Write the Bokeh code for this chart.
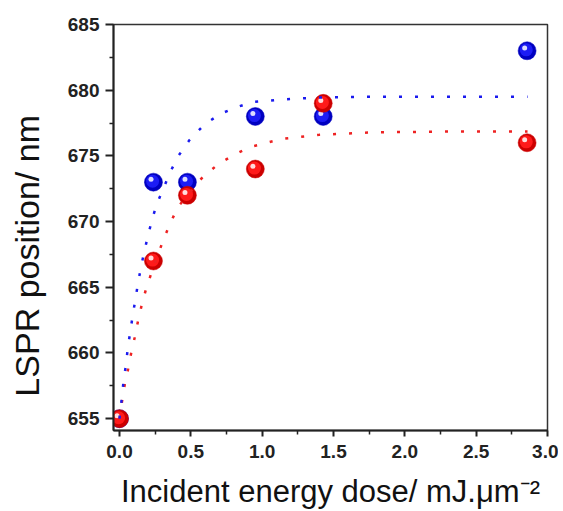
from bokeh.plotting import figure
from bokeh.models import Range1d, FixedTicker, ColumnDataSource
from bokeh.transform import dodge
from bokeh.embed import file_html
from bokeh.resources import INLINE

# ---- data ----
dose = [0.0, 0.238, 0.476, 0.952, 1.428, 2.857]
lspr_blue = [655, 673, 673, 678, 678, 683]
lspr_red = [655, 667, 672, 674, 679, 676]

fit_blue_x = [0.0, 0.007, 0.019, 0.030, 0.047, 0.058, 0.077, 0.093, 0.112, 0.131, 0.152,
              0.175, 0.229, 0.264, 0.357, 0.413, 0.49, 0.596, 0.708, 0.82, 0.932, 1.04,
              1.16, 1.4, 1.8, 2.3, 2.86]
fit_blue_y = [655.0, 655.6, 656.9, 658.0, 659.2, 660.4, 661.7, 662.9, 664.1, 665.4, 666.6,
              667.8, 670.2, 671.4, 673.8, 675.0, 676.2, 677.4, 678.2, 678.7, 679.1, 679.2,
              679.3, 679.45, 679.5, 679.5, 679.5]
fit_red_x = [0.0, 0.019, 0.037, 0.061, 0.082, 0.107, 0.131, 0.159, 0.187, 0.224, 0.307,
             0.353, 0.409, 0.584, 0.696, 0.813, 0.923, 1.035, 1.14, 1.4, 1.8, 2.3, 2.86]
fit_red_y = [655.0, 656.4, 657.6, 658.8, 660.0, 661.2, 662.5, 663.8, 664.9, 666.1, 668.6,
             669.8, 671.1, 673.4, 674.4, 675.15, 675.7, 676.0, 676.3, 676.6, 676.8, 676.85,
             676.85]

x_ticks = [0.0, 0.5, 1.0, 1.5, 2.0, 2.5, 3.0]
y_ticks = [655, 660, 665, 670, 675, 680, 685]

p = figure(width=558, height=511, output_backend="svg", toolbar_location=None,
           x_range=Range1d(-0.042, 3.0), y_range=Range1d(654.1, 685.0),
           min_border_left=113, min_border_right=11, min_border_top=24,
           min_border_bottom=81)

p.grid.visible = False
p.background_fill_color = "white"
p.outline_line_color = "#333333"
p.outline_line_width = 1.5

# axes
for ax in (p.xaxis[0], p.yaxis[0]):
    ax.axis_line_color = "#222222"
    ax.axis_line_width = 2
    ax.major_tick_line_color = "#222222"
    ax.major_tick_line_width = 2
    ax.minor_tick_line_color = "#222222"
    ax.minor_tick_line_width = 1.5
    ax.major_tick_in = 0
    ax.minor_tick_in = 0
    ax.major_label_text_font = "Liberation Sans"
    ax.major_label_text_font_style = "bold"
    ax.major_label_text_font_size = "19px"
    ax.major_label_text_color = "#222222"
    ax.axis_label_text_font = "Liberation Sans"
    ax.axis_label_text_font_style = "normal"
    ax.axis_label_text_color = "#111111"

p.xaxis.ticker = FixedTicker(ticks=x_ticks, minor_ticks=[0.25, 0.75, 1.25, 1.75, 2.25, 2.75])
p.yaxis.ticker = FixedTicker(ticks=y_ticks, minor_ticks=[657.5, 662.5, 667.5, 672.5, 677.5, 682.5])
p.xaxis.major_label_overrides = {t: f"{t:.1f}" for t in x_ticks}
p.xaxis.major_tick_out = 6
p.xaxis.minor_tick_out = 4
p.yaxis.major_tick_out = 8
p.yaxis.minor_tick_out = 4
p.xaxis.major_label_standoff = 8
p.yaxis.major_label_standoff = 6

p.xaxis.axis_label = "Incident energy dose/ mJ.\u03bcm\u207b\u00b2"
p.xaxis.axis_label_text_font_size = "31px"
p.xaxis.axis_label_standoff = 13

# trailing no-break spaces shift the vertical label down, as in the reference
p.yaxis.axis_label = "LSPR position/ nm" + "\u00a0" * 6
p.yaxis.axis_label_text_font_size = "34px"
p.yaxis.axis_label_standoff = 19

# spheres (shaded balls)
src_b = ColumnDataSource(dict(x=dose, y=lspr_blue))
src_r = ColumnDataSource(dict(x=dose, y=lspr_red))

def balls(src, dark, mid):
    p.scatter(x="x", y="y", source=src, size=18, fill_color=dark, line_color=dark, line_width=0.5)
    p.scatter(x=dodge("x", -0.006), y=dodge("y", 0.07), source=src, size=13,
              fill_color=mid, line_color=None)
    p.scatter(x=dodge("x", -0.017), y=dodge("y", 0.22), source=src, size=5,
              fill_color="white", fill_alpha=0.85, line_color=None)

balls(src_b, "#0000c0", "#1c1cf5")
balls(src_r, "#cc0000", "#ff1a1a")

# fitted dotted curves
p.line(fit_red_x, fit_red_y, line_color="#ee2222", line_width=2.5, line_dash="3 13")
p.line(fit_blue_x, fit_blue_y, line_color="#1a1aee", line_width=2.5, line_dash="3 13")

open("out.html", "w").write(file_html(p, INLINE))
